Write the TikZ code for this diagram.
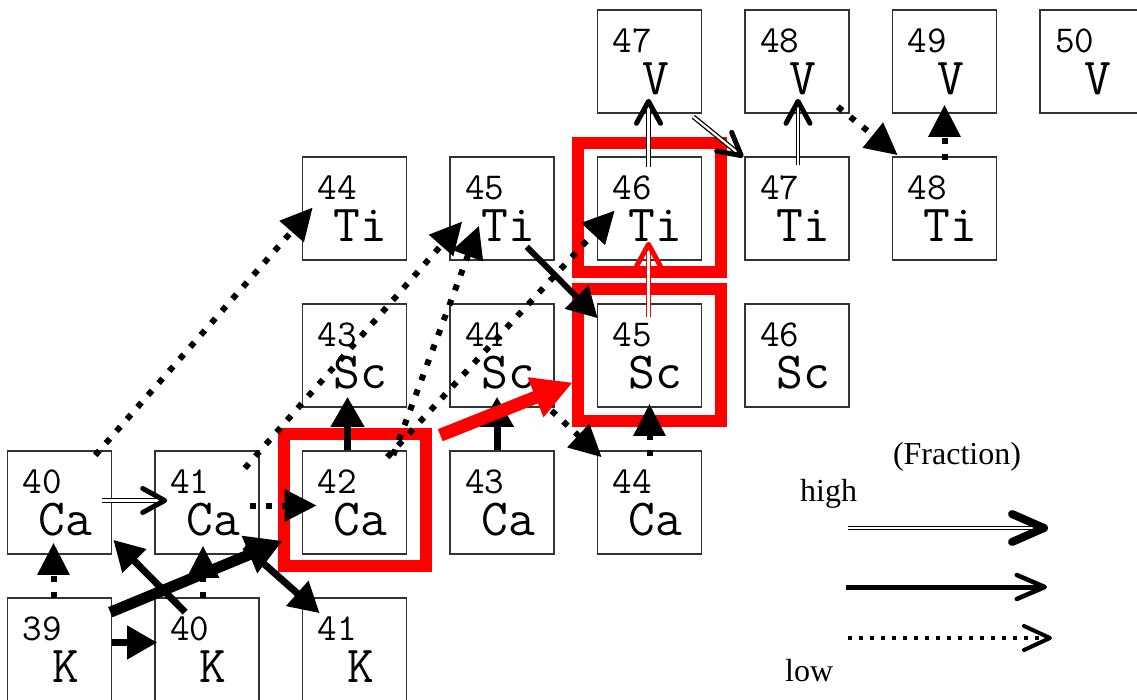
\documentclass[tikz,border=0pt]{standalone}
\usepackage{fontspec}
\setmainfont{Liberation Serif}
\usetikzlibrary{arrows.meta, positioning}

\begin{document}
\begin{tikzpicture}[
        x=1pt, y=-1pt,
        node distance=42.4pt and 41.9pt,
        nuc/.style 2 args={draw=black!80, line width=1.6pt, minimum width=104pt, minimum height=103pt, inner sep=0pt,
            label={[massno]north west:#1}, label={[elsym]south:#2}},
        massno/.style={anchor=north west, inner sep=0pt, text height=24pt, text depth=0pt,
            font=\ttfamily\fontsize{38}{38}\selectfont, shift={(16,19)}},
        elsym/.style={anchor=base, inner sep=0pt, font=\ttfamily\fontsize{52}{52}\selectfont, shift={(6,-19)}},
        hi/.style={preaction={draw=#1, -, double=white, double distance=2.2pt, line width=1.3pt, shorten >=4pt},
            draw=white, line width=.5pt, -{Straight Barb[color=#1, length=22pt, width=24pt, line width=5pt, round]}},
        hi/.default=black,
        mid/.style={line width=#1, -{Triangle[length=30pt, width=32pt]}},
        mid/.default=7pt,
        lo/.style={line width=6pt, dash pattern=on 6pt off 10pt, -{Triangle[length=32pt, width=31pt]}},
        redframe/.style={draw=red, line width=12pt},
        legtext/.style={font=\fontsize{32}{36}\selectfont, inner sep=0pt}
    ]
        \useasboundingbox (0,0) rectangle (1137,699);

        % chart of nuclides
        \node[nuc={40}{Ca}] (ca40) at (59.5,502.5) {};
        \node[nuc={41}{Ca}, right=of ca40] (ca41) {};
        \node[nuc={42}{Ca}, right=of ca41] (ca42) {};
        \node[nuc={43}{Ca}, right=of ca42] (ca43) {};
        \node[nuc={44}{Ca}, right=of ca43] (ca44) {};
        \node[nuc={39}{K}, below=of ca40] (k39) {};
        \node[nuc={40}{K}, right=of k39] (k40) {};
        \node[nuc={41}{K}, right=of k40] (k41) {};
        \node[nuc={43}{Sc}, above=of ca42] (sc43) {};
        \node[nuc={44}{Sc}, right=of sc43] (sc44) {};
        \node[nuc={45}{Sc}, right=of sc44] (sc45) {};
        \node[nuc={46}{Sc}, right=of sc45] (sc46) {};
        \node[nuc={44}{Ti}, above=of sc43] (ti44) {};
        \node[nuc={45}{Ti}, right=of ti44] (ti45) {};
        \node[nuc={46}{Ti}, right=of ti45] (ti46) {};
        \node[nuc={47}{Ti}, right=of ti46] (ti47) {};
        \node[nuc={48}{Ti}, right=of ti47] (ti48) {};
        \node[nuc={47}{V}, above=of ti46] (v47) {};
        \node[nuc={48}{V}, right=of v47] (v48) {};
        \node[nuc={49}{V}, right=of v48] (v49) {};
        \node[nuc={50}{V}, right=of v49] (v50) {};

        % marked nuclides
        \draw[redframe] ([shift={(-18,-16)}]ca42.north west) rectangle ([shift={(19,11)}]ca42.south east);
        \draw[redframe] ([shift={(-19,-14)}]sc45.north west) rectangle ([shift={(19,13)}]sc45.south east);
        \draw[redframe] ([shift={(-19,-13)}]ti46.north west) rectangle ([shift={(19,11)}]ti46.south east);

        % flows
        \draw[hi] ([shift={(-10,-2)}]ca40.east) -- ([shift={(13,-2)}]ca41.west);
        \draw[lo] ([shift={(-10,3)}]ca41.east) -- ([shift={(15,3)}]ca42.west);
        \draw[lo] ([shift={(-6,1)}]k39.north) -- ([shift={(-6,-12)}]ca40.south);
        \draw[lo] ([shift={(-4,1)}]k40.north) -- ([shift={(-4,-9)}]ca41.south);
        \draw[mid] ([shift={(0,-7)}]k39.east) -- ([shift={(3,-7)}]k40.west);
        \draw[mid] ([shift={(31,15)}]k40.north west) -- ([shift={(1,-15)}]ca40.south east);
        \draw[mid] ([shift={(-15,-8)}]ca41.south east) -- ([shift={(18,16)}]k41.north west);
        \draw[mid=11pt, -{Triangle[length=36pt, width=38pt]}] ([shift={(-2,15)}]k39.north east) -- ([shift={(-19,-14)}]ca42.south west);
        \draw[mid] ([xshift=-7pt]ca42.north) -- ([shift={(-7,-11)}]sc43.south);
        \draw[mid] ([xshift=-5pt]ca43.north) -- ([shift={(-5,-11)}]sc44.south);
        \draw[lo] ([shift={(0,6)}]ca44.north) -- ([shift={(0,-4)}]sc45.south);
        \draw[mid=6pt] ([shift={(-28,-14)}]ti45.south east) -- ([shift={(1,15)}]sc45.north west);
        \draw[lo] ([shift={(-15,-8)}]sc44.south east) -- ([shift={(5,7)}]ca44.north west);
        \draw[lo] ([shift={(-17,5)}]ca40.north east) -- ([shift={(11,-1)}]ti44.west);
        \draw[lo] ([shift={(-15,18)}]ca41.north east) -- ([shift={(13,13)}]ti45.west);
        \draw[lo] ([shift={(-14,5)}]ca42.north east) -- ([shift={(-23,-35)}]ti45.south);
        \draw[lo] ([shift={(-20,7)}]ca42.north east) -- ([shift={(18,2)}]ti46.west);
        \draw[hi] ([shift={(-1,11)}]ti46.north) -- ([shift={(-1,-15)}]v47.south);
        \draw[hi] ([shift={(1,9)}]ti47.north) -- ([shift={(1,-15)}]v48.south);
        \draw[hi] ([shift={(-9,3)}]v47.south east) -- ([shift={(-1,1)}]ti47.north west);
        \draw[lo] ([shift={(-12,-7)}]v48.south east) -- ([shift={(6,-1)}]ti48.north west);
        \draw[lo] ([shift={(0,4)}]ti48.north) -- ([shift={(0,-9)}]v49.south);

        % main path
        \draw[mid=13pt, red, -{Triangle[length=40pt, width=40pt]}] ([shift={(33,-15)}]ca42.north east) -- ([shift={(-24,27)}]sc45.west);
        \draw[hi=red] ([shift={(-1,14)}]sc45.north) -- ([shift={(-1,-19)}]ti46.south);

        % legend
        \node[legtext] (frac) at (957,457) {(Fraction)};
        \node[legtext, anchor=base west] (high) at (800,501) {high};
        \node[legtext, anchor=base west] (low) at (785,681) {low};
        \coordinate (hiA) at (848,528);
        \coordinate (hiB) at (1048,528);
        \coordinate (midA) at (846,587);
        \coordinate (midB) at (1047,587);
        \coordinate (loA) at (848,638);
        \coordinate (loB) at (1052,638);
        \draw[hi, -{Straight Barb[color=black, length=32pt, width=28pt, line width=8pt, round]}] (hiA) -- (hiB);
        \draw[line width=5pt, -{Straight Barb[length=28pt, width=24pt, line width=4.5pt, round]}] (midA) -- (midB);
        \draw[line width=4pt, dash pattern=on 4pt off 7pt, -{Straight Barb[length=26pt, width=24pt, line width=4pt, round]}] (loA) -- (loB);

    \end{tikzpicture}
\end{document}
